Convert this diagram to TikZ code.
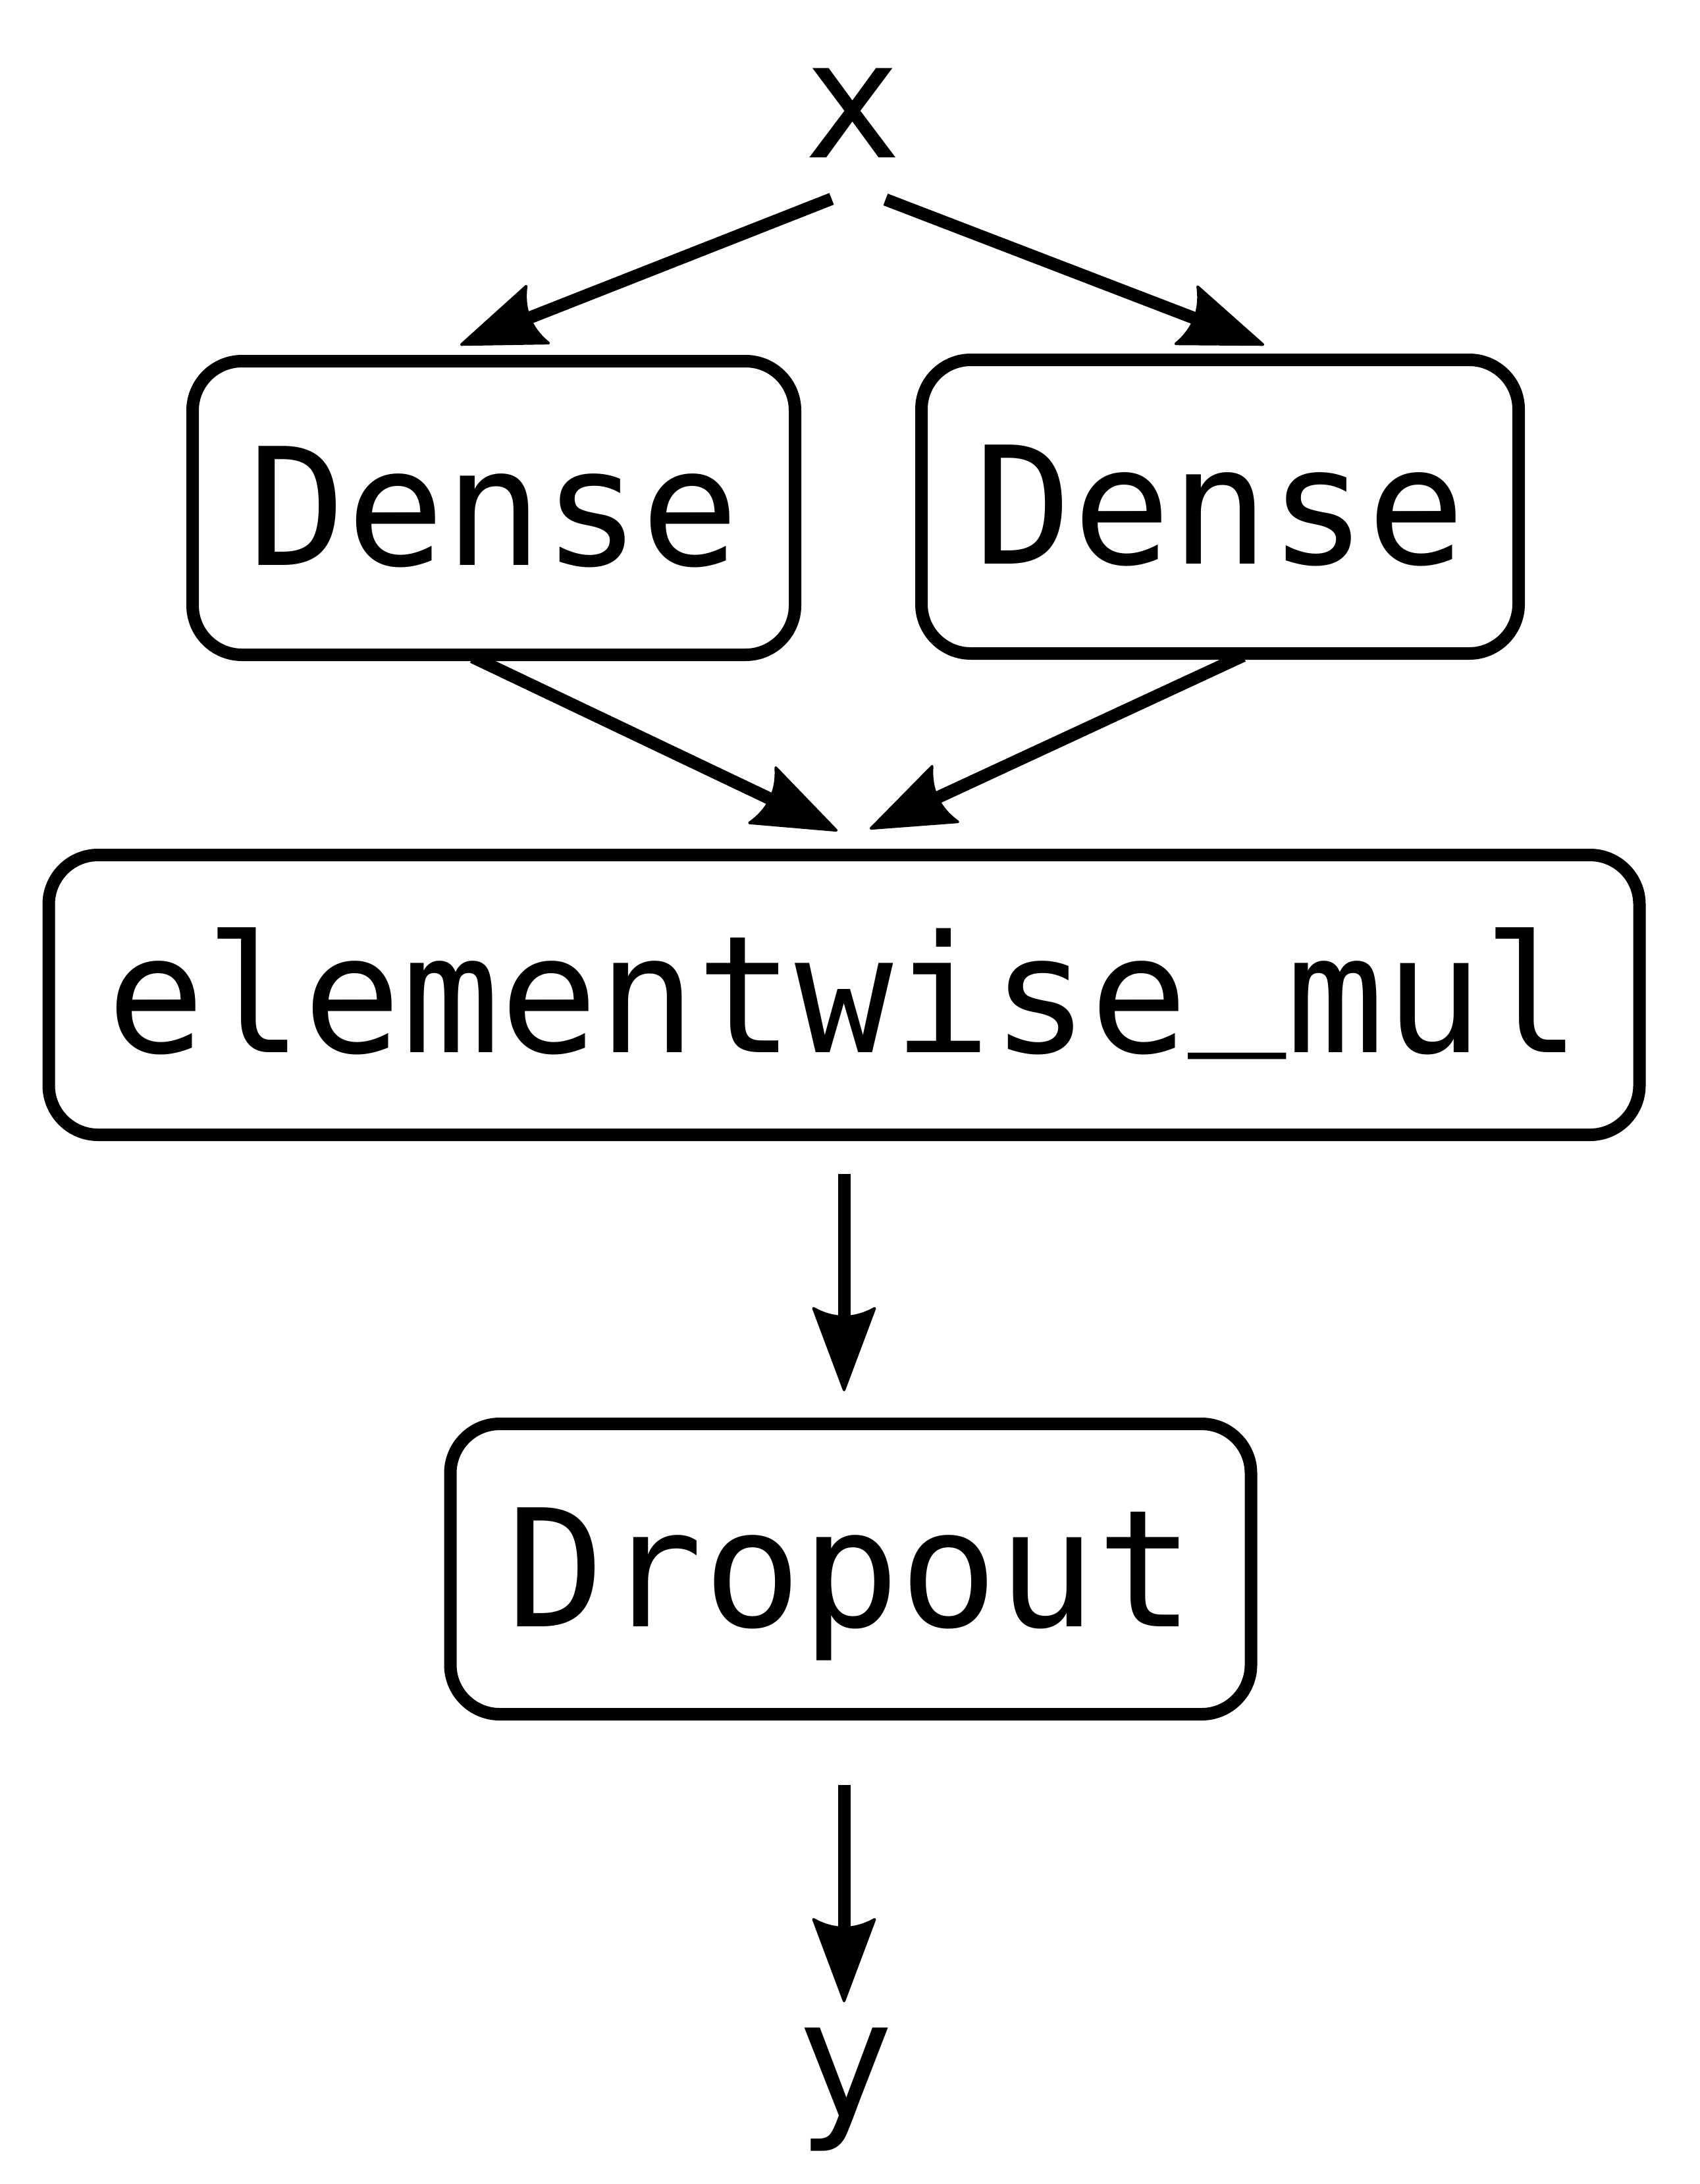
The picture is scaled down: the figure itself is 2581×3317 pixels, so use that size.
\documentclass[tikz,border=0pt]{standalone}
\usepackage{fontspec}
\setmonofont{DejaVu Sans Mono}
\usetikzlibrary{arrows.meta}
\newcommand\bigmono{\ttfamily\fontsize{248pt}{250pt}\selectfont}
\pgfdeclarearrow{
  name=GvTip,
  setup code={
    \pgfarrowssettipend{0pt}
    \pgfarrowssetbackend{-128pt}
    \pgfarrowssetlineend{-105pt}
    \pgfarrowshullpoint{0pt}{0pt}
    \pgfarrowshullpoint{-128pt}{48pt}
    \pgfarrowshullpoint{-128pt}{-48pt}
  },
  drawing code={
    \pgfsetlinewidth{4pt}
    \pgfsetroundjoin
    \pgfpathmoveto{\pgfpoint{-2pt}{0pt}}
    \pgfpathlineto{\pgfpoint{-126pt}{46.5pt}}
    \pgfpathquadraticcurveto{\pgfpoint{-100pt}{0pt}}{\pgfpoint{-126pt}{-46.5pt}}
    \pgfpathclose
    \pgfusepathqfillstroke
  },
  parameters={},
}
\tikzset{
  opbox/.style={draw, line width=19pt, rounded corners=75pt, outer sep=0pt,
    inner sep=0pt, text height=182pt, text depth=8pt, font=\bigmono},
  term/.style={anchor=base, inner sep=0pt, font=\bigmono},
  edge/.style={line width=19pt, -{GvTip}},
}
\begin{document}
\begin{tikzpicture}[x=1pt,y=-1pt]
\useasboundingbox (0,0) rectangle (2581,3317);
\node[term] (xin) at (1295,239) {x};
\node[opbox, minimum width=915pt, minimum height=446pt] (d1) at (750,771.5) {Dense};
\node[opbox, minimum width=907pt, minimum height=446pt] (d2) at (1853,769.5) {Dense};
\node[opbox, minimum width=2416pt, minimum height=425pt] (mul) at (1282,1511) {elementwise\raisebox{48pt}{\_}mul};
\node[opbox, minimum width=1216pt, minimum height=441pt] (drop) at (1292,2383) {Dropout};
\node[term] (yout) at (1284,3215) {y};

\draw[edge] ([shift={(-32,63)}]xin.base) -- ([shift={(-51,-24.5)}]d1.north);
\draw[edge] ([shift={(50,64)}]xin.base) -- ([shift={(67,-22.5)}]d2.north);
\draw[edge] ([shift={(-32,3.5)}]d1.south) -- ([shift={(-10,-36.5)}]mul.north);
\draw[edge] ([shift={(35,3.5)}]d2.south) -- ([shift={(39,-39.5)}]mul.north);
\draw[edge] ([shift={(0,59.5)}]mul.south) -- ([shift={(-10,-49.5)}]drop.north);
\draw[edge] ([shift={(-10,107.5)}]drop.south) -- ([shift={(-2,-174)}]yout.base);
\end{tikzpicture}
\end{document}
